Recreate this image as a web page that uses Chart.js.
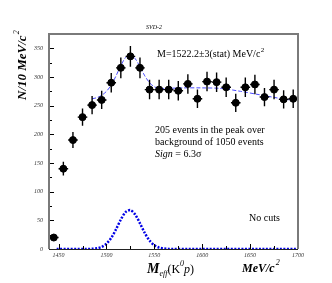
<!DOCTYPE html>
<html>
<head>
<meta charset="utf-8">
<script src="https://cdn.jsdelivr.net/npm/chart.js@4"></script>
<style>
  body { margin: 0; background: #fff; }
  #wrap { width: 332px; height: 283px; }
</style>
</head>
<body>
<div id="wrap"><canvas id="myChart" width="332" height="283"></canvas></div>
<script>
// bin centres, MeV/c^2 (10 MeV bins)
const masses = [1445, 1455, 1465, 1475, 1485, 1495, 1505, 1515, 1525, 1535, 1545, 1555,
  1565, 1575, 1585, 1595, 1605, 1615, 1625, 1635, 1645, 1655, 1665, 1675, 1685, 1695];
const counts = [20, 140, 190, 230, 251, 260, 290, 316, 336, 316, 278, 278,
  278, 276, 288, 262, 292, 291, 282, 255, 282, 287, 265, 278, 261, 262];
const errors = [5, 12, 14, 15, 16, 16, 17, 18, 18, 18, 17, 17,
  17, 17, 17, 16, 17, 17, 17, 16, 17, 17, 16, 17, 16, 16];

// fit: gaussian + background
const fitX = [1485, 1490, 1495, 1500, 1505, 1510, 1515, 1520, 1525, 1530, 1535, 1540,
  1545, 1550, 1555, 1560, 1580, 1600, 1620, 1640, 1660, 1680, 1700];
const fitY = [262, 264, 268, 275, 286, 302, 320, 334, 339, 332, 318, 302,
  290, 283, 280, 280, 281, 281, 280, 275, 269, 263, 258];

// signal only
const sigX = [1448, 1480, 1485, 1490, 1495, 1500, 1505, 1510, 1515, 1520, 1525, 1530,
  1535, 1540, 1545, 1550, 1555, 1560, 1565, 1700];
const sigY = [0, 0, 0.4, 1.2, 3.7, 9.2, 19.4, 34.4, 51.3, 64.3, 67.8, 60,
  44.7, 28, 14.7, 6.5, 2.4, 0.8, 0.2, 0];

const serif = "'Liberation Serif', 'DejaVu Serif', serif";

const pts = masses.map((m, i) => ({ x: m, y: counts[i] }));

const errorBars = {
  id: "errorBars",
  afterDatasetsDraw(chart) {
    const ctx = chart.ctx;
    const xs = chart.scales.x, ys = chart.scales.y;
    ctx.save();
    ctx.strokeStyle = "#000";
    ctx.lineWidth = 1.4;
    masses.forEach((m, i) => {
      const px = xs.getPixelForValue(m);
      const py = ys.getPixelForValue(counts[i]);
      ctx.beginPath();
      ctx.moveTo(xs.getPixelForValue(m - 5), py);
      ctx.lineTo(xs.getPixelForValue(m + 5), py);
      ctx.moveTo(px, ys.getPixelForValue(counts[i] - errors[i]));
      ctx.lineTo(px, ys.getPixelForValue(counts[i] + errors[i]));
      ctx.stroke();
    });
    ctx.restore();
  }
};

const frame = {
  id: "frame",
  afterDraw(chart) {
    const ctx = chart.ctx;
    const a = chart.chartArea;
    const xs = chart.scales.x, ys = chart.scales.y;
    ctx.save();
    // inward ticks
    ctx.strokeStyle = "#000";
    ctx.lineWidth = 1;
    ctx.beginPath();
    for (let v = 0; v <= 375; v += 25) {
      const py = Math.round(ys.getPixelForValue(v)) + 0.5;
      const len = v % 50 === 0 ? 5 : 3;
      ctx.moveTo(a.left, py);
      ctx.lineTo(a.left + len, py);
    }
    for (let v = 1450; v <= 1700; v += 25) {
      const px = Math.round(xs.getPixelForValue(v)) + 0.5;
      const len = v % 50 === 0 ? 5 : 3;
      ctx.moveTo(px, a.bottom);
      ctx.lineTo(px, a.bottom - len);
    }
    ctx.stroke();
    // box
    ctx.strokeStyle = "#7a7a7a";
    ctx.lineWidth = 2;
    ctx.beginPath();
    ctx.moveTo(a.left, a.bottom);
    ctx.lineTo(a.left, a.top);
    ctx.lineTo(a.right, a.top);
    ctx.lineTo(a.right, a.bottom);
    ctx.stroke();
    ctx.strokeStyle = "#222";
    ctx.lineWidth = 1;
    ctx.beginPath();
    ctx.moveTo(a.left, a.bottom + 0.5);
    ctx.lineTo(a.right, a.bottom + 0.5);
    ctx.stroke();

    // texts
    ctx.fillStyle = "#000";
    ctx.textBaseline = "alphabetic";
    ctx.textAlign = "left";
    ctx.font = "italic 6px " + serif;
    ctx.fillText("SVD-2", 146, 29);

    ctx.font = "10px " + serif;
    ctx.fillText("M=1522.2\u00b13(stat) MeV/c", 157, 57);
    let w = ctx.measureText("M=1522.2\u00b13(stat) MeV/c").width;
    ctx.font = "7px " + serif;
    ctx.fillText("2", 157 + w + 0.5, 52);

    ctx.font = "10px " + serif;
    ctx.fillText("205 events in the peak over", 155, 133);
    ctx.fillText("background of 1050 events", 155, 145);
    ctx.font = "italic 10px " + serif;
    ctx.fillText("Sign", 155, 157);
    w = ctx.measureText("Sign").width;
    ctx.font = "10px " + serif;
    ctx.fillText(" = 6.3\u03c3", 155 + w, 157);

    ctx.fillText("No cuts", 249, 221);

    // x title
    let x = 147;
    ctx.font = "bold italic 14px " + serif;
    ctx.fillText("M", x, 273);
    x += ctx.measureText("M").width;
    ctx.font = "italic 8px " + serif;
    ctx.fillText("eff", x, 276);
    x += ctx.measureText("eff").width;
    ctx.font = "12px " + serif;
    ctx.fillText("(K", x, 273);
    x += ctx.measureText("(K").width;
    ctx.font = "italic 8px " + serif;
    ctx.fillText("0", x, 266);
    x += ctx.measureText("0").width;
    ctx.font = "italic 12px " + serif;
    ctx.fillText("p", x, 273);
    x += ctx.measureText("p").width;
    ctx.font = "12px " + serif;
    ctx.fillText(")", x, 273);

    ctx.font = "bold italic 12px " + serif;
    ctx.fillText("MeV/c", 242, 272);
    w = ctx.measureText("MeV/c").width;
    ctx.font = "italic 8px " + serif;
    ctx.fillText("2", 242 + w + 1, 265);

    // y title
    ctx.save();
    ctx.translate(26, 100);
    ctx.rotate(-Math.PI / 2);
    ctx.font = "bold italic 13px " + serif;
    ctx.fillText("N/10 MeV/c", 0, 0);
    w = ctx.measureText("N/10 MeV/c").width;
    ctx.font = "italic 8px " + serif;
    ctx.fillText("2", w + 1, -7);
    ctx.restore();

    ctx.restore();
  }
};

const config = {
  type: "scatter",
  data: {
    datasets: [
      {
        data: pts,
        backgroundColor: "#000",
        borderColor: "#000",
        pointRadius: 3.5,
        pointHoverRadius: 3.5,
        order: 0,
      },
      {
        type: "line",
        data: fitX.map((m, i) => ({ x: m, y: fitY[i] })),
        borderColor: "#4a4aff",
        borderWidth: 1,
        borderDash: [4, 2],
        pointRadius: 0,
        tension: 0.3,
        fill: false,
        order: 2,
      },
      {
        type: "line",
        data: sigX.map((m, i) => ({ x: m, y: sigY[i] })),
        borderColor: "#0000e6",
        borderWidth: 2.5,
        borderDash: [2, 1.5],
        pointRadius: 0,
        tension: 0.3,
        fill: false,
        order: 1,
      },
    ],
  },
  options: {
    responsive: false,
    animation: false,
    layout: { padding: { left: 0, top: 34, right: 34, bottom: 0 } },
    scales: {
      x: {
        type: "linear",
        min: 1440,
        max: 1700,
        afterFit: (s) => { s.height = 34; },
        grid: { display: false, drawTicks: false },
        border: { display: false },
        ticks: {
          stepSize: 50,
          includeBounds: false,
          padding: 3,
          color: "#333",
          callback: (v) => String(v),
          font: { family: serif, size: 6, style: "italic" },
        },
      },
      y: {
        min: 0,
        max: 375,
        afterFit: (s) => { s.width = 49; },
        grid: { display: false, drawTicks: false },
        border: { display: false },
        ticks: {
          stepSize: 50,
          includeBounds: false,
          padding: 6,
          color: "#333",
          callback: (v) => String(v),
          font: { family: serif, size: 6, style: "italic" },
        },
      },
    },
    plugins: {
      legend: { display: false },
      title: { display: false },
      tooltip: { enabled: false },
    },
  },
  plugins: [errorBars, frame],
};

const myChart = new Chart(document.getElementById("myChart"), config);
</script>
</body>
</html>
